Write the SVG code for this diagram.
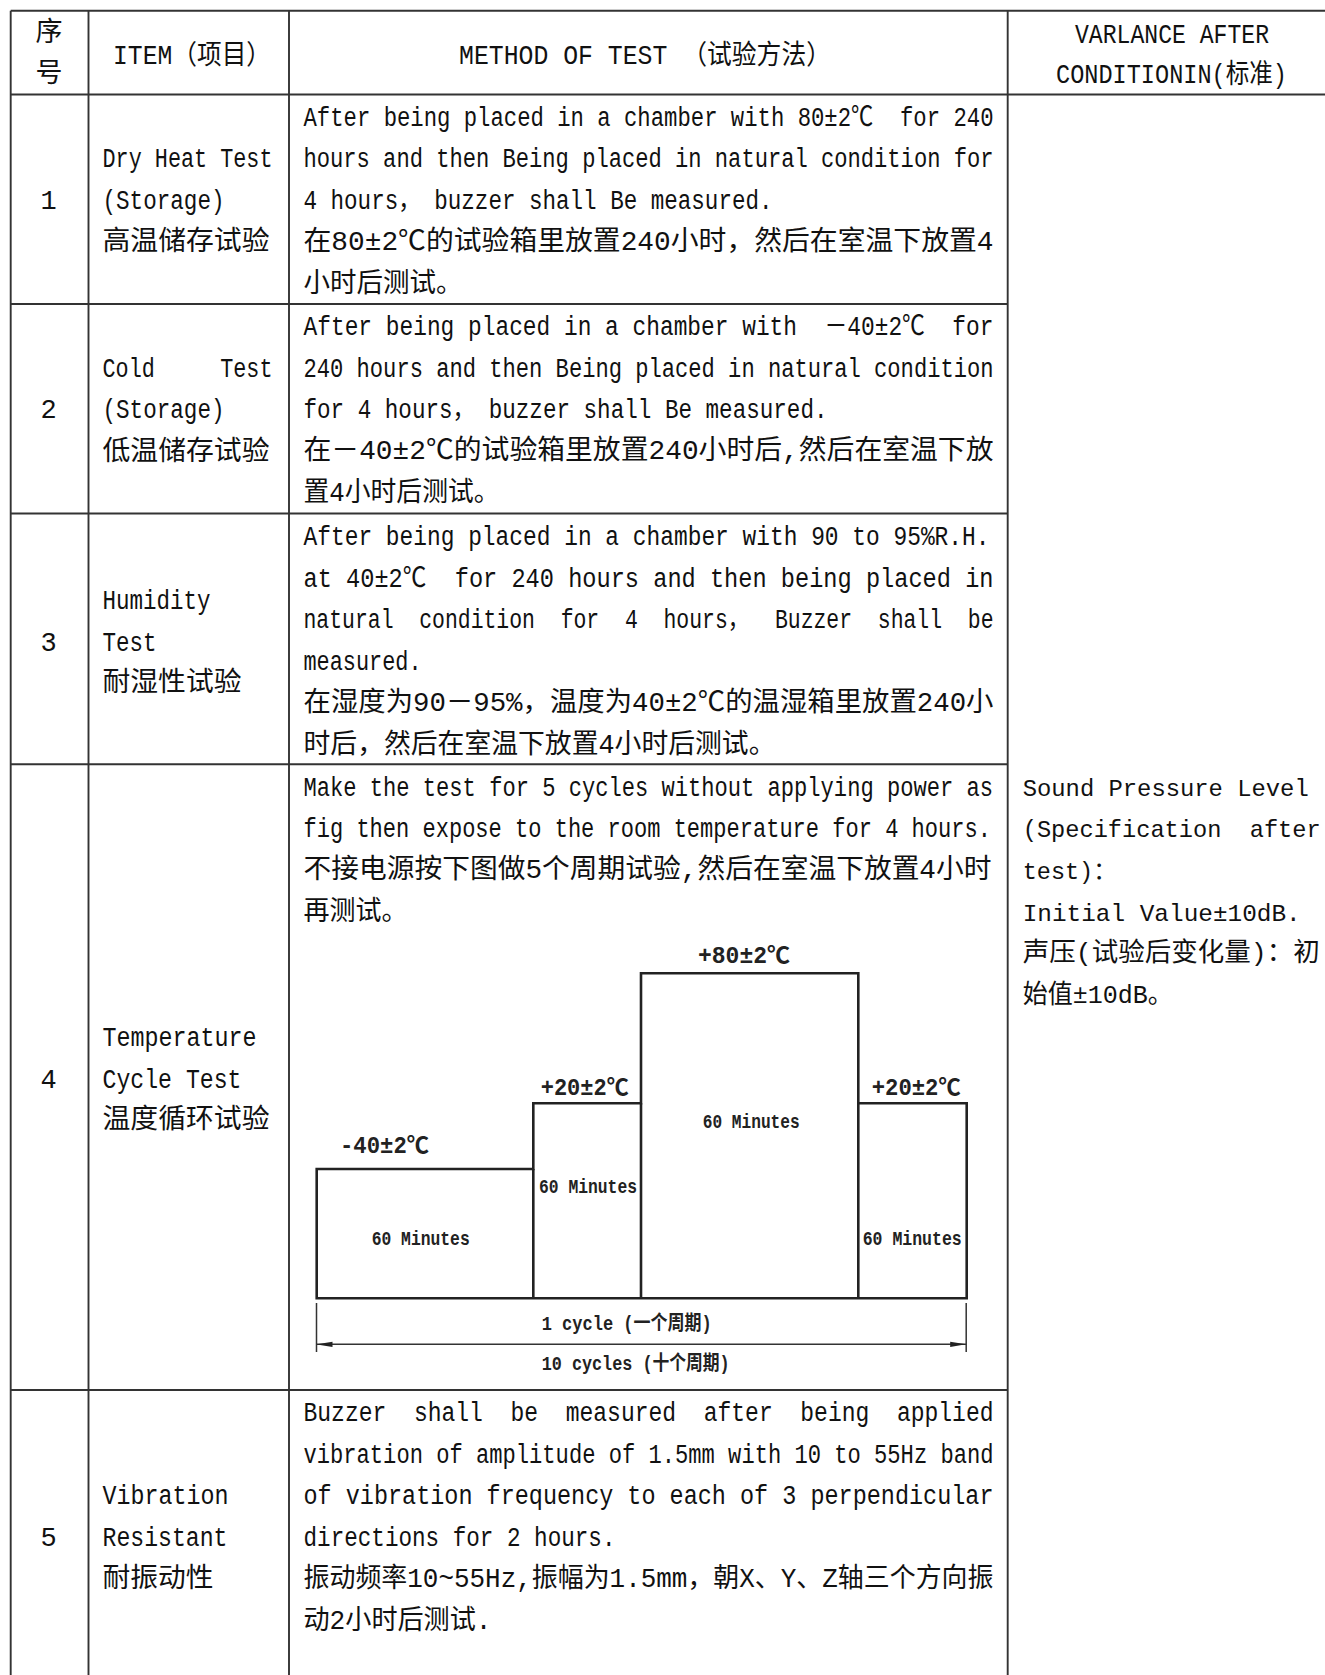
<svg xmlns="http://www.w3.org/2000/svg" width="1325" height="1675" viewBox="0 0 1325 1675">
<style>
.t{font-family:"Liberation Mono","Noto Sans CJK SC",monospace;font-size:27px;fill:#111}
.c4{font-size:24px}
.c4z{font-size:26px}
.ch{font-family:"Liberation Mono","Noto Sans CJK SC",monospace;font-weight:bold;font-size:23px;fill:#222}
.cs{font-size:21px}
.cy{font-size:20px}
.grid line{stroke:#333;stroke-width:1.9}
.box{fill:none;stroke:#222;stroke-width:2.6;stroke-linejoin:miter}
.dim{fill:none;stroke:#333;stroke-width:1.5}
</style>
<defs>
<marker id="arr" viewBox="0 0 16 8" refX="16" refY="4" markerWidth="16" markerHeight="8" markerUnits="userSpaceOnUse" orient="auto-start-reverse">
<path d="M0,1.4 L16,4 L0,6.6 Z" fill="#222"/>
</marker>
</defs>
<rect width="1325" height="1675" fill="#fff"/>
<g id="grid" class="grid">
<line x1="10.7" y1="10.7" x2="1325" y2="10.7"/>
<line x1="10.7" y1="94.5" x2="1325" y2="94.5"/>
<line x1="10.7" y1="304" x2="1007.7" y2="304"/>
<line x1="10.7" y1="513.5" x2="1007.7" y2="513.5"/>
<line x1="10.7" y1="764.3" x2="1007.7" y2="764.3"/>
<line x1="10.7" y1="1390" x2="1007.7" y2="1390"/>
<line x1="10.7" y1="10.7" x2="10.7" y2="1675"/>
<line x1="88.5" y1="10.7" x2="88.5" y2="1675"/>
<line x1="289" y1="10.7" x2="289" y2="1675"/>
<line x1="1007.7" y1="10.7" x2="1007.7" y2="1675"/>
</g>
<g id="header" class="t">
<text x="35.5" y="41" textLength="27" lengthAdjust="spacingAndGlyphs">序</text>
<text x="35.5" y="82" textLength="27" lengthAdjust="spacingAndGlyphs">号</text>
<text x="113" y="63.5" textLength="158" lengthAdjust="spacingAndGlyphs">ITEM（项目）</text>
<text x="459" y="63.5" textLength="372" lengthAdjust="spacingAndGlyphs">METHOD OF TEST （试验方法）</text>
<text x="1075" y="43" textLength="194" lengthAdjust="spacingAndGlyphs">VARLANCE AFTER</text>
<text x="1056" y="83.3" textLength="231" lengthAdjust="spacingAndGlyphs">CONDITIONIN(标准)</text>
</g>
<g id="row1" class="t">
<text x="48.5" y="209.4" text-anchor="middle">1</text>
<text x="102.5" y="167.4" textLength="170" lengthAdjust="spacingAndGlyphs">Dry Heat Test</text>
<text x="102.5" y="209.1" textLength="122" lengthAdjust="spacingAndGlyphs">(Storage)</text>
<text x="102.5" y="249.8" textLength="167" lengthAdjust="spacingAndGlyphs">高温储存试验</text>
<text x="303.5" y="125.7" textLength="690" lengthAdjust="spacingAndGlyphs" xml:space="preserve">After being placed in a chamber with 80±2℃  for 240</text>
<text x="303.5" y="167.4" textLength="690" lengthAdjust="spacingAndGlyphs">hours and then Being placed in natural condition for</text>
<text x="303.5" y="209.1" textLength="469" lengthAdjust="spacingAndGlyphs">4 hours， buzzer shall Be measured.</text>
<text x="303.5" y="249.8" textLength="690" lengthAdjust="spacingAndGlyphs">在80±2℃的试验箱里放置240小时，然后在室温下放置4</text>
<text x="303.5" y="291.5" textLength="159" lengthAdjust="spacingAndGlyphs">小时后测试。</text>
</g>
<g id="row2" class="t">
<text x="48.5" y="418.4" text-anchor="middle">2</text>
<text x="102.5" y="377.3" textLength="170" lengthAdjust="spacingAndGlyphs" xml:space="preserve">Cold     Test</text>
<text x="102.5" y="418.4" textLength="122" lengthAdjust="spacingAndGlyphs">(Storage)</text>
<text x="102.5" y="459.6" textLength="167" lengthAdjust="spacingAndGlyphs">低温储存试验</text>
<text x="303.5" y="335" textLength="690" lengthAdjust="spacingAndGlyphs" xml:space="preserve">After being placed in a chamber with  －40±2℃  for</text>
<text x="303.5" y="376.7" textLength="690" lengthAdjust="spacingAndGlyphs">240 hours and then Being placed in natural condition</text>
<text x="303.5" y="418.4" textLength="524" lengthAdjust="spacingAndGlyphs">for 4 hours， buzzer shall Be measured.</text>
<text x="303.5" y="459.1" textLength="690" lengthAdjust="spacingAndGlyphs">在－40±2℃的试验箱里放置240小时后,然后在室温下放</text>
<text x="303.5" y="500.8" textLength="196" lengthAdjust="spacingAndGlyphs">置4小时后测试。</text>
</g>
<g id="row3" class="t">
<text x="48.5" y="650.7" text-anchor="middle">3</text>
<text x="102.5" y="609" textLength="108" lengthAdjust="spacingAndGlyphs">Humidity</text>
<text x="102.5" y="650.7" textLength="54" lengthAdjust="spacingAndGlyphs">Test</text>
<text x="102.5" y="691.4" textLength="139" lengthAdjust="spacingAndGlyphs">耐湿性试验</text>
<text x="303.5" y="545" textLength="686" lengthAdjust="spacingAndGlyphs">After being placed in a chamber with 90 to 95%R.H.</text>
<text x="303.5" y="586.7" textLength="690" lengthAdjust="spacingAndGlyphs" xml:space="preserve">at 40±2℃  for 240 hours and then being placed in</text>
<text x="303.5" y="628.4" textLength="690" lengthAdjust="spacingAndGlyphs" xml:space="preserve">natural  condition  for  4  hours，  Buzzer  shall  be</text>
<text x="303.5" y="670.1" textLength="118" lengthAdjust="spacingAndGlyphs">measured.</text>
<text x="303.5" y="710.8" textLength="690" lengthAdjust="spacingAndGlyphs">在湿度为90－95%，温度为40±2℃的温湿箱里放置240小</text>
<text x="303.5" y="752.5" textLength="472" lengthAdjust="spacingAndGlyphs">时后，然后在室温下放置4小时后测试。</text>
</g>
<g id="row4" class="t">
<text x="48.5" y="1087.7" text-anchor="middle">4</text>
<text x="102.5" y="1046" textLength="154" lengthAdjust="spacingAndGlyphs">Temperature</text>
<text x="102.5" y="1087.7" textLength="139" lengthAdjust="spacingAndGlyphs">Cycle Test</text>
<text x="102.5" y="1128.4" textLength="167" lengthAdjust="spacingAndGlyphs">温度循环试验</text>
<text transform="matrix(0.8191 0 0 1 303.5 795.5)">Make the test for 5 cycles without applying power as</text>
<text transform="matrix(0.8167 0 0 1 303.5 837.2)">fig then expose to the room temperature for 4 hours.</text>
<text x="303.5" y="877.9" textLength="688" lengthAdjust="spacingAndGlyphs">不接电源按下图做5个周期试验,然后在室温下放置4小时</text>
<text x="303.5" y="919.6" textLength="104" lengthAdjust="spacingAndGlyphs">再测试。</text>
</g>
<g id="chart">
<path class="box" d="M316.7,1298.3 V1169 H533.3 V1103.3 H641 V973.3 H858.3 V1103.3 H966.7 V1298.3 Z"/>
<path class="box" d="M533.3,1169 V1298.3 M641,1103.3 V1298.3 M858.3,1103.3 V1298.3"/>
<path class="dim" d="M316.5,1303 V1352 M966.2,1303 V1352"/>
<line class="dim" x1="316.5" y1="1344.3" x2="966.2" y2="1344.3" marker-start="url(#arr)" marker-end="url(#arr)"/>
<g class="ch">
<text x="340" y="1153" textLength="89" lengthAdjust="spacingAndGlyphs">-40±2℃</text>
<text x="540.7" y="1095" textLength="88" lengthAdjust="spacingAndGlyphs">+20±2℃</text>
<text x="698" y="963" textLength="92" lengthAdjust="spacingAndGlyphs">+80±2℃</text>
<text x="871.7" y="1095" textLength="89" lengthAdjust="spacingAndGlyphs">+20±2℃</text>
<text class="cs" x="371.7" y="1245" textLength="98" lengthAdjust="spacingAndGlyphs">60 Minutes</text>
<text class="cs" x="539" y="1193" textLength="98" lengthAdjust="spacingAndGlyphs">60 Minutes</text>
<text class="cs" x="702.7" y="1128" textLength="97" lengthAdjust="spacingAndGlyphs">60 Minutes</text>
<text class="cs" x="862.7" y="1245" textLength="99" lengthAdjust="spacingAndGlyphs">60 Minutes</text>
<text class="cy" x="541.7" y="1330" textLength="170" lengthAdjust="spacingAndGlyphs">1 cycle (一个周期)</text>
<text class="cy" x="541.7" y="1370" textLength="188" lengthAdjust="spacingAndGlyphs">10 cycles (十个周期)</text>
</g>
</g>
<g id="row5" class="t">
<text x="48.5" y="1546.1" text-anchor="middle">5</text>
<text x="102.5" y="1504.4" textLength="126" lengthAdjust="spacingAndGlyphs">Vibration</text>
<text x="102.5" y="1546.1" textLength="125" lengthAdjust="spacingAndGlyphs">Resistant</text>
<text x="102.5" y="1586.8" textLength="111" lengthAdjust="spacingAndGlyphs">耐振动性</text>
<text x="303.5" y="1421" textLength="690" lengthAdjust="spacingAndGlyphs" xml:space="preserve">Buzzer  shall  be  measured  after  being  applied</text>
<text x="303.5" y="1462.7" textLength="690" lengthAdjust="spacingAndGlyphs">vibration of amplitude of 1.5mm with 10 to 55Hz band</text>
<text x="303.5" y="1504.4" textLength="690" lengthAdjust="spacingAndGlyphs">of vibration frequency to each of 3 perpendicular</text>
<text x="303.5" y="1546.1" textLength="312" lengthAdjust="spacingAndGlyphs">directions for 2 hours.</text>
<text x="303.5" y="1586.8" textLength="690" lengthAdjust="spacingAndGlyphs">振动频率10~55Hz,振幅为1.5mm，朝X、Y、Z轴三个方向振</text>
<text x="303.5" y="1628.5" textLength="188" lengthAdjust="spacingAndGlyphs">动2小时后测试.</text>
</g>
<g id="criteria" class="t c4">
<text x="1022.7" y="795.5" textLength="286" lengthAdjust="spacingAndGlyphs">Sound Pressure Level</text>
<text x="1022.7" y="837.2" textLength="298" lengthAdjust="spacingAndGlyphs" xml:space="preserve">(Specification  after</text>
<text x="1022.7" y="878.9" textLength="94" lengthAdjust="spacingAndGlyphs">test)：</text>
<text x="1022.7" y="920.6" textLength="278" lengthAdjust="spacingAndGlyphs">Initial Value±10dB.</text>
<text class="c4z" x="1022.7" y="961.3" textLength="297" lengthAdjust="spacingAndGlyphs">声压(试验后变化量)：初</text>
<text class="c4z" x="1022.7" y="1003" textLength="150" lengthAdjust="spacingAndGlyphs">始值±10dB。</text>
</g>
</svg>
